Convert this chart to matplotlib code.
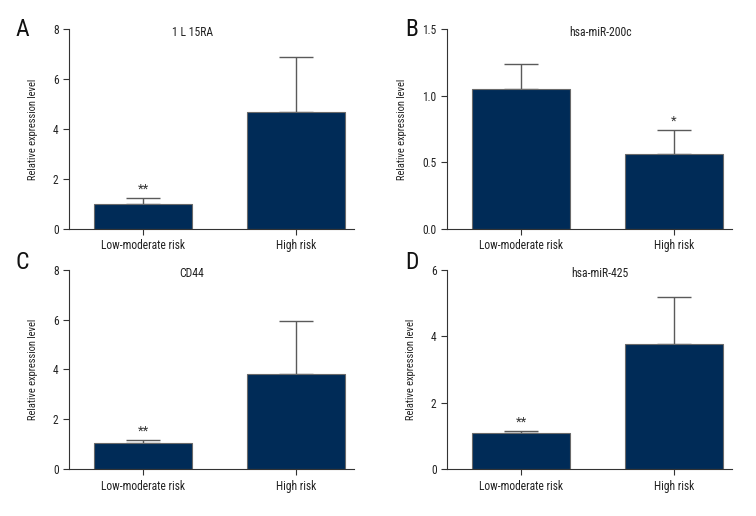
import matplotlib
matplotlib.use("Agg")
import matplotlib.pyplot as plt
from matplotlib import font_manager

# pick a narrow font if one is installed (reference uses a condensed face)
names = {f.name for f in font_manager.fontManager.ttflist}
family = "DejaVu Sans"
stretch = "normal"
for cand in ["Liberation Sans Narrow", "Roboto Condensed", "Open Sans Condensed",
             "Noto Sans Condensed"]:
    if cand in names:
        family = cand
        break
else:
    for f in font_manager.fontManager.ttflist:
        if str(f.stretch) in ("condensed", "semi-condensed") and f.name in (
                "DejaVu Sans", "Noto Sans", "Open Sans", "Roboto", "Inter"):
            family = f.name
            stretch = "condensed"
            break
plt.rcParams['font.family'] = [family, 'DejaVu Sans']
plt.rcParams['font.stretch'] = stretch

groups = ["Low-moderate risk", "High risk"]

titles = ["1 L 15RA", "hsa-miR-200c", "CD44", "hsa-miR-425"]
letters = ["A", "B", "C", "D"]
means = [[1.00, 4.67], [1.05, 0.56], [1.05, 3.80], [1.09, 3.76]]
errors = [[0.23, 2.20], [0.19, 0.18], [0.14, 2.13], [0.05, 1.41]]
ymax = [8, 1.5, 8, 6]
yticks = [[0, 2, 4, 6, 8], [0.0, 0.5, 1.0, 1.5], [0, 2, 4, 6, 8], [0, 2, 4, 6]]
ytick_labels = [["0", "2", "4", "6", "8"], ["0.0", "0.5", "1.0", "1.5"],
                ["0", "2", "4", "6", "8"], ["0", "2", "4", "6"]]
stars = [["**", ""], ["", "*"], ["**", ""], ["**", ""]]

bar_color = "#002b57"
err_color = "#5a5a5a"

fig = plt.figure(figsize=(7.56, 5.16), dpi=100)

# [left, bottom, width, height] in figure fraction
positions = [
    [0.0913, 0.5562, 0.377, 0.3876],
    [0.5913, 0.5562, 0.377, 0.3876],
    [0.0913, 0.0905, 0.377, 0.3870],
    [0.5913, 0.0905, 0.377, 0.3870],
]
title_x = [0.435, 0.537, 0.43, 0.537]
letter_pos = [(0.021, 0.943), (0.536, 0.943), (0.021, 0.491), (0.536, 0.491)]

for i in range(4):
    ax = fig.add_axes(positions[i])
    x = [0, 1]
    ax.bar(x, means[i], width=0.64, color=bar_color, edgecolor="#6a6a6a",
           linewidth=0.8, zorder=2)
    ax.errorbar(x, means[i], yerr=[[0, 0], errors[i]], fmt="none",
                ecolor=err_color, elinewidth=1.0, capsize=12, capthick=1.0,
                zorder=1)
    for j in range(2):
        if stars[i][j]:
            ax.text(x[j], means[i][j] + errors[i][j] + ymax[i] * 0.012,
                    stars[i][j], ha="center", va="bottom", fontsize=9.5,
                    color="#333333")
    ax.set_xlim(-0.484, 1.38)
    ax.set_ylim(0, ymax[i])
    ax.set_yticks(yticks[i])
    ax.set_yticklabels(ytick_labels[i])
    ax.set_xticks(x)
    ax.set_xticklabels(groups)
    ax.tick_params(axis="both", labelsize=8.3, length=4, width=0.8,
                   color="#333333", labelcolor="#222222")
    ax.spines["top"].set_visible(False)
    ax.spines["right"].set_visible(False)
    for s in ["left", "bottom"]:
        ax.spines[s].set_linewidth(0.8)
        ax.spines[s].set_color("#333333")
    ax.set_ylabel("Relative expression level", fontsize=7.6, color="#222222",
                  labelpad=11)
    ax.text(title_x[i], 0.98, titles[i], transform=ax.transAxes, ha="center",
            va="center", fontsize=8.5, color="#222222")
    fig.text(letter_pos[i][0], letter_pos[i][1], letters[i], fontsize=17,
             ha="left", va="center", color="#111111")

fig.savefig("out.png", dpi=100)
